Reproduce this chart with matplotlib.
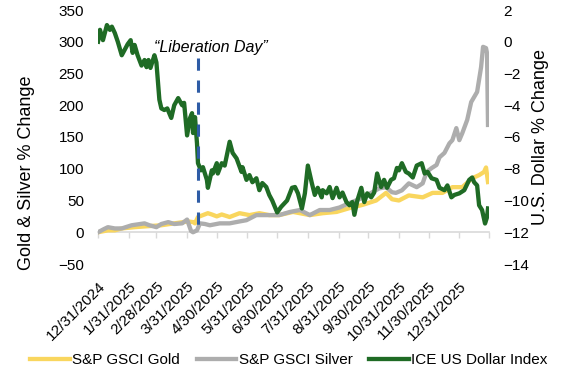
import numpy as np
import pandas as pd
import matplotlib
matplotlib.use("Agg")
import matplotlib.pyplot as plt
import matplotlib.transforms as mtransforms

plt.rcParams['font.family'] = ['Liberation Sans', 'DejaVu Sans']

# ---------------- data (days since 2024-12-31, % change) ----------------
start_date = "2024-12-31"
end_date = "2026-01-30"

gold_day = [0, 10, 17, 24, 37, 50, 64, 77, 91, 96, 98, 101, 106, 111, 115, 120, 125, 133, 143, 153,
            163, 173, 183, 197, 204, 214, 227, 241, 254, 267, 281, 291, 297, 304, 314, 328, 338, 348,
            358, 368, 378, 385, 390, 392, 394]
gold_chg = [0, 3, 3, 6, 8, 9.5, 11, 14, 17, 16, 14, 24, 27, 30, 28, 25, 28, 24, 30, 27,
            30, 27, 27, 32, 30, 27, 30, 32, 38, 43, 50, 62, 52, 50, 58, 55, 62, 62,
            71, 71, 85, 90, 95, 102, 79]

silver_day = [0, 6, 10, 17, 24, 34, 47, 52, 59, 64, 71, 77, 85, 90, 92, 94, 96, 100, 103, 108,
              113, 123, 133, 143, 150, 160, 173, 183, 194, 204, 214, 224, 234, 244, 254, 267, 277,
              284, 291, 297, 301, 307, 314, 322, 328, 332, 337, 342, 345, 350, 355, 358, 362, 365,
              368, 373, 377, 380, 383, 387, 389, 392, 393, 394]
silver_chg = [0, 5, 8, 6, 6, 11, 14, 11, 8, 13, 16, 13, 14, 20, 11, 2, 0, 3, 14, 13,
              11, 14, 14, 17, 19, 27, 27, 27, 32, 35, 27, 35, 35, 39, 46, 54, 63,
              69, 71, 63, 62, 66, 77, 71, 77, 95, 101, 106, 118, 125, 140, 145, 164, 145,
              156, 177, 205, 213, 221, 260, 292, 290, 282, 169]

dollar_day = [0, 2, 5, 9, 12, 14, 17, 20, 24, 27, 30, 33, 35, 37, 40, 44, 47, 49, 51, 53,
              57, 59, 62, 64, 67, 70, 72, 74, 77, 81, 85, 87, 90, 93, 95, 96, 98, 100, 101, 104,
              106, 110, 111, 115, 116, 120, 121, 125, 128, 133, 136, 140, 145, 146, 150, 153, 156,
              160, 163, 166, 170, 173, 176, 181, 185, 191, 196, 199, 202, 206, 209, 212, 216, 219,
              222, 226, 227, 231, 234, 237, 241, 244, 247, 251, 254, 257, 259, 262, 266, 269, 272,
              276, 279, 282, 286, 289, 292, 296, 299, 302, 304, 307, 311, 314, 318, 322, 327, 330,
              333, 337, 342, 345, 350, 353, 357, 360, 365, 370, 375, 378, 380, 383, 385, 388, 391,
              393, 394]
dollar_chg = [0.0, 0.75, 0.1, 1.05, 0.75, 0.95, 0.55, 0.0, -0.85, -0.5, -0.15, 0.1, -0.7, -0.2,
              -0.85, -1.5, -1.15, -1.6, -1.15, -1.65, -0.85, -1.3, -3.65, -4.2, -4.3, -4.2, -4.5,
              -4.8, -4.0, -3.55, -4.0, -3.85, -5.9, -4.8, -4.5, -5.75, -4.75, -6.4, -7.65, -8.1,
              -7.9, -8.7, -9.2, -8.1, -8.3, -7.65, -8.3, -7.65, -7.8, -6.3, -7.0, -7.35, -8.2,
              -7.9, -8.7, -8.4, -8.85, -8.6, -9.35, -8.9, -9.15, -9.65, -10.0, -10.75, -10.4,
              -10.0, -9.2, -9.15, -9.55, -10.5, -9.55, -7.8, -8.9, -9.65, -9.2, -9.8, -9.35,
              -9.55, -9.15, -9.85, -9.2, -9.8, -9.5, -10.1, -10.3, -10.1, -10.9, -10.0, -9.2,
              -10.1, -9.55, -9.8, -9.5, -8.3, -9.15, -8.7, -9.2, -8.7, -8.6, -7.95, -8.1, -7.65,
              -8.2, -8.3, -8.55, -7.8, -7.65, -8.3, -8.2, -8.6, -8.7, -9.2, -9.35, -9.05, -9.8,
              -9.65, -9.55, -9.35, -8.7, -8.55, -8.85, -9.05, -10.3, -10.6, -11.45, -11.05, -10.5]

tick_labels = ["12/31/2024", "1/31/2025", "2/28/2025", "3/31/2025", "4/30/2025", "5/31/2025",
               "6/30/2025", "7/31/2025", "8/31/2025", "9/30/2025", "10/31/2025", "11/30/2025",
               "12/31/2025"]
liberation_date = "2025-04-11"
series_names = ["S&P GSCI Gold", "S&P GSCI Silver", "ICE US Dollar Index"]
left_ticks = list(range(-50, 351, 50))
right_ticks = list(range(-14, 3, 2))

# ---------------- styling ----------------
c_gold = "#F9D65E"
c_silver = "#ADADAD"
c_dollar = "#1F6B25"
c_dash = "#2E5CA6"
c_axis = "#D9D9D9"
lw = 3.1

base = pd.Timestamp(start_date)
def to_dates(days):
    return base + pd.to_timedelta(days, unit="D")

W, H = 588, 383
fig = plt.figure(figsize=(W / 100, H / 100), dpi=100)
left, right, top, bottom = 98, 489, 10, 264
ax = fig.add_axes([left / W, 1 - bottom / H, (right - left) / W, (bottom - top) / H])
ax2 = ax.twinx()

l1, = ax.plot(to_dates(gold_day), gold_chg, color=c_gold, lw=lw, solid_joinstyle="round")
l2, = ax.plot(to_dates(silver_day), silver_chg, color=c_silver, lw=lw, solid_joinstyle="round")
l3, = ax2.plot(to_dates(dollar_day), dollar_chg, color=c_dollar, lw=lw, solid_joinstyle="round")

ax.set_ylim(left_ticks[0], left_ticks[-1])
ax2.set_ylim(right_ticks[0], right_ticks[-1])
xmin, xmax = pd.Timestamp(start_date), pd.Timestamp(end_date)
ax.set_xlim(xmin, xmax)

for a in (ax, ax2):
    for s in a.spines.values():
        s.set_visible(False)

ax.set_yticks(left_ticks)
ax.tick_params(axis="y", length=0, labelsize=11, pad=10)
ax2.set_yticks(right_ticks)
ax2.tick_params(axis="y", length=0, labelsize=11, pad=10)

tick_dates = pd.to_datetime(tick_labels, format="%m/%d/%Y")
ax.set_xticks(tick_dates)
ax.set_xticklabels(tick_labels, rotation=45, ha="right", va="top", rotation_mode="anchor")
ax.tick_params(axis="x", length=0, labelsize=11, pad=11)

# horizontal axis line (at zero of left axis) with tick marks
zero_frac = (0 - left_ticks[0]) / (left_ticks[-1] - left_ticks[0])
sec = ax.secondary_xaxis(zero_frac)
sec.set_xticks(list(tick_dates) + [xmax])
sec.set_xticklabels([""] * (len(tick_dates) + 1))
sec.tick_params(axis="x", direction="out", length=4, width=1, color=c_axis)
for name, s in sec.spines.items():
    s.set_visible(name == "bottom")
sec.spines["bottom"].set_color(c_axis)
sec.spines["bottom"].set_linewidth(1.2)

# Liberation Day marker
trans = mtransforms.blended_transform_factory(ax2.transData, ax2.transAxes)
lib = pd.Timestamp(liberation_date)
ax2.plot([lib, lib], [0.81, zero_frac], transform=trans, color=c_dash, lw=2.2,
         dashes=(4, 3.2), zorder=5)
ax2.text(0.289, 0.854, "\u201cLiberation Day\u201d", transform=ax2.transAxes, fontsize=11.5,
         style="italic", ha="center", va="center")

ax.set_ylabel("Gold & Silver % Change", fontsize=13)
ax.yaxis.set_label_coords(-0.162, 0.36)
ax2.set_ylabel("U.S. Dollar % Change", fontsize=13)
ax2.yaxis.set_label_coords(1.11, 0.5)

fig.legend([l1, l2, l3], series_names, loc="center", bbox_to_anchor=(0.4915, 1 - 360 / H),
           ncol=3, frameon=False, fontsize=11, handlelength=2.6, handletextpad=0.15,
           columnspacing=1.1)

fig.savefig("out.png", dpi=100)
